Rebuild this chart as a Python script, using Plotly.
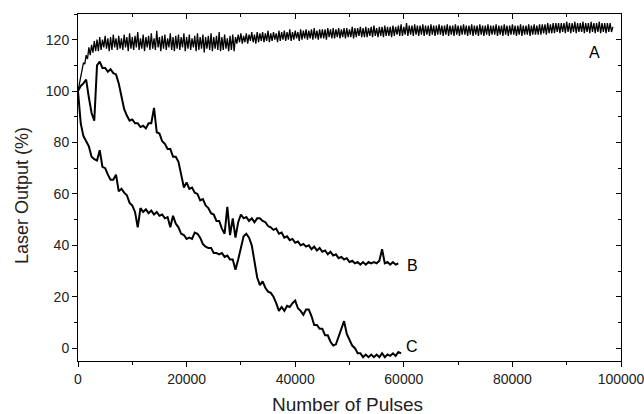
import numpy as np
import plotly.graph_objects as go

STEP_A = 250  # pulses between recorded samples, curve A
STEP_BC = 500  # pulses between recorded samples, curves B and C

series_a = [
    100, 103, 106, 108, 111, 110.5, 114, 112.5, 117, 114, 118, 115, 119.5, 115.5, 120, 115.5,
    121, 116, 120, 117, 121.5, 116.5, 120.5, 115.5, 121, 116, 122, 117, 120.5, 116, 121.5, 116.5,
    120.5, 116, 122, 117, 121, 115.5, 122.5, 116.5, 121, 116, 121.5, 117, 123, 116, 120.5, 116.5,
    122, 115.5, 121, 117, 121.5, 116, 122.5, 116.5, 120.5, 116, 123.5, 117, 121, 115.5, 121.5, 116.5,
    122, 116, 120.5, 117, 122.5, 116, 121, 115.5, 121.5, 116.5, 122, 116, 121, 117, 122.5, 115.5,
    121, 116.5, 122, 116, 120.5, 117, 121.5, 115.5, 122.5, 116, 121, 116.5, 122, 115, 121, 116.5,
    121.5, 116, 122.5, 115.5, 121, 116.5, 121.5, 116, 123, 115.5, 121, 116, 122, 116.5, 120.5, 115.5,
    121.5, 116, 122, 115.5, 121,
    118.5, 122, 119, 122.5, 118.5, 121.5, 119, 122.5, 118.5, 122, 119.5, 123, 119, 122, 118.5, 123,
    119, 122.5, 119.5, 123, 119, 122.5, 119.5, 123.5, 119, 122.5, 119.5, 123, 120, 122.5, 119, 123.5,
    119.5, 123, 120, 123.5, 119.5, 123, 120, 124, 119.5, 123, 120, 123.5, 120.5, 123, 119.5, 124,
    120, 123.5, 120.5, 124, 120, 123.5, 120.5, 124, 120, 124.5, 120.5, 123.5, 120, 124, 120.5, 124,
    120.5, 124, 120, 124.5, 121, 124, 120.5, 124.5, 120.5, 124, 121, 124.5, 120.5, 124, 121, 124.5,
    120.5, 124.5, 121, 124, 121, 125, 120.5, 124.5, 121, 124.5, 121.5, 125, 121, 124.5, 121, 125,
    121, 124.5, 121.5, 125, 121, 125.5, 121.5, 124.5, 121, 125, 121.5, 125, 121, 125.5, 121.5, 125,
    121.5, 125, 121, 125.5, 121.5, 125, 122, 125.5, 121.5, 126, 121.5, 125, 122, 126.5, 121.5, 125.5,
    122, 125.5, 121.5, 126, 122, 125.5, 121.5, 125.5, 122, 126, 121.5, 125.5, 122, 125.5, 121.5, 126,
    122, 125.5, 121.5, 125.5, 122, 126, 122, 125.5, 121.5, 125.5, 122, 126, 121.5, 125.5, 122, 125.5,
    121.5, 126, 122, 125.5, 121.5, 125.5, 122, 126, 122, 125.5, 121.5, 125.5, 122, 126, 121.5, 125.5,
    122, 125.5, 121.5, 126, 122, 125.5, 121.5, 125.5, 122, 126, 121.5, 125.5, 122, 125.5, 122, 126,
    121.5, 125.5, 122, 125.5, 121.5, 126, 122, 125.5, 121.5, 125.5, 122, 126, 122, 125.5, 121.5, 125.5,
    122, 126, 121.5, 125.5, 122, 125.5, 122, 126, 121.5, 125.5, 122, 126, 122, 125.5, 122, 126,
    122, 126, 122.5, 126, 122, 126.5, 122.5, 126, 122.5, 126.5, 122.5, 126.5, 123, 126.5, 122.5, 126.5,
    123, 126.5, 122.5, 127, 123, 126.5, 122.5, 126.5, 123, 127, 122.5, 126.5, 123, 126.5, 123, 127,
    122.5, 126.5, 123, 126.5, 122.5, 127, 123, 126.5, 122.5, 126.5, 123, 127, 122.5, 126.5, 123, 126.5,
    122.5, 126.5, 123, 126.5, 123, 125,
]

series_b = [
    100, 102, 103, 104.5, 97.5, 91.5, 88.5, 110, 111.5, 109, 109, 107.5, 108.5, 107, 106.5, 103,
    98, 93, 90.5, 88.5, 89, 87.5, 87.5, 86, 86.5, 85.5, 87.5, 87.5, 93.5, 84, 83.5, 80.5,
    79.5, 77.5, 77.5, 74.5, 74.5, 72.5, 67.5, 62.5, 64.5, 62, 62.5, 60.5, 60, 57.5, 58, 55.5,
    54.5, 52.5, 52, 49.5, 49.5, 46.5, 44.5, 55, 44, 50.5, 43, 49, 52, 50.5, 51, 49.5,
    50.5, 49, 50.5, 50.5, 49.5, 49, 47.5, 47, 46, 46.5, 44.5, 45, 43, 43.5, 42, 42.5,
    41, 41.5, 40, 40.5, 39.5, 40, 38.5, 39.5, 38, 39, 37.5, 38, 36.5, 37.5, 36, 36.5,
    35, 35.5, 34.5, 35, 33.5, 34, 33, 33.5, 32.5, 33.5, 32.5, 33.5, 33, 33.5, 33, 34,
    38.5, 33, 33.5, 32.5, 33.5, 32.5, 33,
]

series_c = [
    100, 87.5, 82.5, 80.5, 78.5, 74.5, 73.5, 73, 77, 70.5, 70, 67.5, 65.5, 65.5, 67.5, 61,
    62, 60.5, 59.5, 56.5, 55.5, 53, 47, 54.5, 53, 54, 52.5, 53.5, 52, 53, 51.5, 52,
    50.5, 51, 47, 51.5, 48.5, 47, 44.5, 44, 42.5, 43, 42.5, 45, 44.5, 43, 40.5, 39.5,
    39, 39, 37, 37, 36.5, 37, 35.5, 36, 34.5, 34.5, 30.5, 34.5, 38.5, 43.5, 44.5, 43,
    40, 34.5, 27.5, 24.5, 26, 23.5, 22, 21.5, 20, 17.5, 14.5, 16, 14.5, 16.5, 16, 17.5,
    18.5, 15.5, 14.5, 13, 15, 15, 12.5, 9, 9, 7.5, 7.5, 5, 5, 2.5, 1, 1.5,
    4.5, 7.5, 10.5, 5.5, 3, 1, 0, -2, -2, -3.5, -2.5, -3.5, -2.5, -3.5, -2.5, -3.5,
    -2, -3.5, -2.5, -3, -2, -3, -1.5, -2,
]

curve_labels = ["A", "B", "C"]
label_x = [95200, 61600, 61500]
label_y = [115.2, 32.1, 0.5]

x_ticks = [0, 20000, 40000, 60000, 80000, 100000]
x_tick_text = ["0", "20000", "40000", "60000", "80000", "100000"]
y_ticks = [0, 20, 40, 60, 80, 100, 120]

x_title = "Number of Pulses"
y_title = "Laser Output (%)"

FONT = "Liberation Sans, Arial, sans-serif"

fig = go.Figure()
for vals, step, w in ((series_a, STEP_A, 1.3), (series_b, STEP_BC, 2), (series_c, STEP_BC, 2)):
    xs = np.arange(len(vals)) * step
    fig.add_trace(go.Scatter(x=xs, y=vals, mode="lines",
                             line=dict(color="black", width=w),
                             showlegend=False, hoverinfo="skip"))

# invisible trace so the mirrored (top/right) axes are drawn
fig.add_trace(go.Scatter(x=[0], y=[0], xaxis="x2", yaxis="y2", mode="markers",
                         marker=dict(opacity=0), showlegend=False, hoverinfo="skip"))

for t, lx, ly in zip(curve_labels, label_x, label_y):
    fig.add_annotation(x=lx, y=ly, text=t, showarrow=False,
                       font=dict(family=FONT, size=16, color="black"))

# axis titles
fig.add_annotation(xref="paper", yref="paper", x=0.497, y=-0.124, text=x_title,
                   showarrow=False, xanchor="center", yanchor="middle",
                   font=dict(family=FONT, size=19, color="#222222"))
fig.add_annotation(xref="paper", yref="paper", x=-0.103, y=0.4755, text=y_title,
                   showarrow=False, xanchor="center", yanchor="middle", textangle=-90,
                   font=dict(family=FONT, size=18, color="#222222"))

axis_common = dict(showgrid=False, zeroline=False, showline=True, linecolor="black",
                   linewidth=1, tickcolor="black", tickwidth=1, automargin=False)

fig.update_layout(
    width=644, height=414,
    margin=dict(l=78, r=23, t=14, b=53),
    paper_bgcolor="white", plot_bgcolor="white",
    font=dict(family=FONT, color="#222222"),
    xaxis=dict(range=[0, 100000], tickvals=x_ticks, ticktext=x_tick_text,
               ticks="outside", ticklen=5, ticklabeloverflow="allow",
               minor=dict(dtick=10000, ticks="outside", ticklen=3, tickcolor="black"),
               tickfont=dict(size=14, family=FONT),
               **axis_common),
    yaxis=dict(range=[-5, 130], tickvals=y_ticks, ticks="outside", ticklen=5,
               minor=dict(dtick=10, ticks="outside", ticklen=3, tickcolor="black"),
               tickfont=dict(size=14, family=FONT),
               **axis_common),
    xaxis2=dict(range=[0, 100000], overlaying="x", side="top", anchor="y",
                tickvals=x_ticks, ticks="inside", ticklen=5, showticklabels=False,
                minor=dict(dtick=10000, ticks="inside", ticklen=3, tickcolor="black"),
                **axis_common),
    yaxis2=dict(range=[-5, 130], overlaying="y", side="right", anchor="x",
                tickvals=y_ticks, ticks="inside", ticklen=5, showticklabels=False,
                minor=dict(dtick=10, ticks="inside", ticklen=3, tickcolor="black"),
                **axis_common),
)

fig.write_html("out.html", config={"displayModeBar": False},
               post_script="document.body.style.margin='0';document.body.style.overflow='hidden';")
